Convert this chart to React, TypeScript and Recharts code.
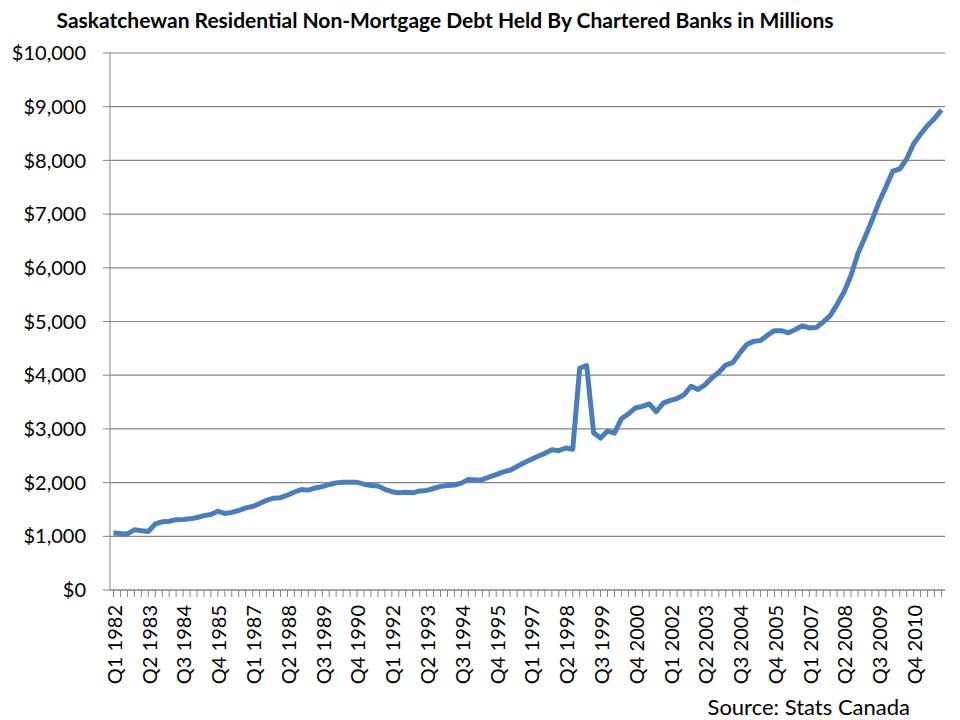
import { LineChart, Line, XAxis, YAxis, CartesianGrid } from 'recharts'

// quarterly, Q1 1982 .. Q4 2011
const years = Array.from({ length: 30 }, (_, k) => 1982 + k)
const quarters = years.flatMap((y) => [1, 2, 3, 4].map((q) => `Q${q} ${y}`))

// $ millions
const debt = [
  1060, 1050, 1045, 1120, 1105, 1090, 1230, 1270, 1280, 1310,
  1315, 1325, 1350, 1385, 1405, 1465, 1425, 1445, 1480, 1530,
  1555, 1610, 1670, 1710, 1720, 1765, 1825, 1870, 1860, 1900,
  1925, 1965, 1995, 2005, 2005, 2005, 1970, 1945, 1935, 1875,
  1830, 1810, 1820, 1810, 1845, 1855, 1890, 1930, 1945, 1955,
  1990, 2060, 2050, 2055, 2105, 2150, 2200, 2230, 2300, 2370,
  2430, 2490, 2545, 2610, 2595, 2645, 2620, 4130, 4180, 2930,
  2830, 2960, 2920, 3190, 3280, 3390, 3420, 3465, 3320, 3480,
  3530, 3565, 3635, 3795, 3735, 3820, 3950, 4055, 4190, 4235,
  4410, 4570, 4630, 4645, 4745, 4830, 4830, 4790, 4850, 4920,
  4880, 4890, 4990, 5110, 5320, 5550, 5860, 6270, 6570, 6880,
  7220, 7500, 7800, 7840, 8030, 8310, 8490, 8650, 8780, 8940,
]

const yTicks = [0, 1000, 2000, 3000, 4000, 5000, 6000, 7000, 8000, 9000, 10000]

const data = quarters.map((quarter, i) => ({ quarter, debt: debt[i] }))

const font = 'Lato, "Open Sans", sans-serif'
const gray = '#868686'

// every category gets a tick mark, only every 5th one gets a label
function QuarterTick(props: any) {
  const { x, y, payload, index } = props
  if (index % 5 !== 0) return <g />
  return (
    <g transform={`translate(${x},${y})`}>
      <text transform="rotate(-90)" textAnchor="end" dy="0.42em" fontSize={20} fill="#000" fontFamily={font}>
        {payload.value}
      </text>
    </g>
  )
}

export default function App() {
  return (
    <div style={{ position: 'absolute', left: 0, top: 0, width: 960, height: 720, background: '#fff' }}>
      <LineChart width={960} height={720} data={data} margin={{ top: 53, right: 15, bottom: 10, left: 10 }}>
        <CartesianGrid vertical={false} stroke={gray} strokeWidth={1.2} />
        <XAxis
          dataKey="quarter"
          interval={0}
          height={120}
          padding={{ left: 3.5, right: 3.5 }}
          tick={<QuarterTick />}
          tickSize={7}
          tickMargin={8}
          axisLine={{ stroke: gray }}
          tickLine={{ stroke: gray }}
        />
        <YAxis
          width={100}
          domain={[0, 10000]}
          ticks={yTicks}
          tickFormatter={(v) => `$${v.toLocaleString('en-US')}`}
          tickSize={7}
          tickMargin={17}
          axisLine={{ stroke: gray }}
          tickLine={{ stroke: gray }}
          tick={{ fontSize: 20, fill: '#000', fontFamily: font }}
        />
        <Line
          type="linear"
          dataKey="debt"
          stroke="#4A7EBB"
          strokeWidth={5}
          strokeLinejoin="round"
          dot={false}
          isAnimationActive={false}
        />
      </LineChart>
      <svg width={960} height={720} style={{ position: 'absolute', left: 0, top: 0, pointerEvents: 'none' }}>
        <text x={445} y={28} textAnchor="middle" fontSize={21} fontWeight="bold" fontFamily={font} fill="#000">
          Saskatchewan Residential Non-Mortgage Debt Held By Chartered Banks in Millions
        </text>
        <text x={910} y={715} textAnchor="end" fontSize={22} fontFamily={font} fill="#000">
          Source: Stats Canada
        </text>
      </svg>
    </div>
  )
}
